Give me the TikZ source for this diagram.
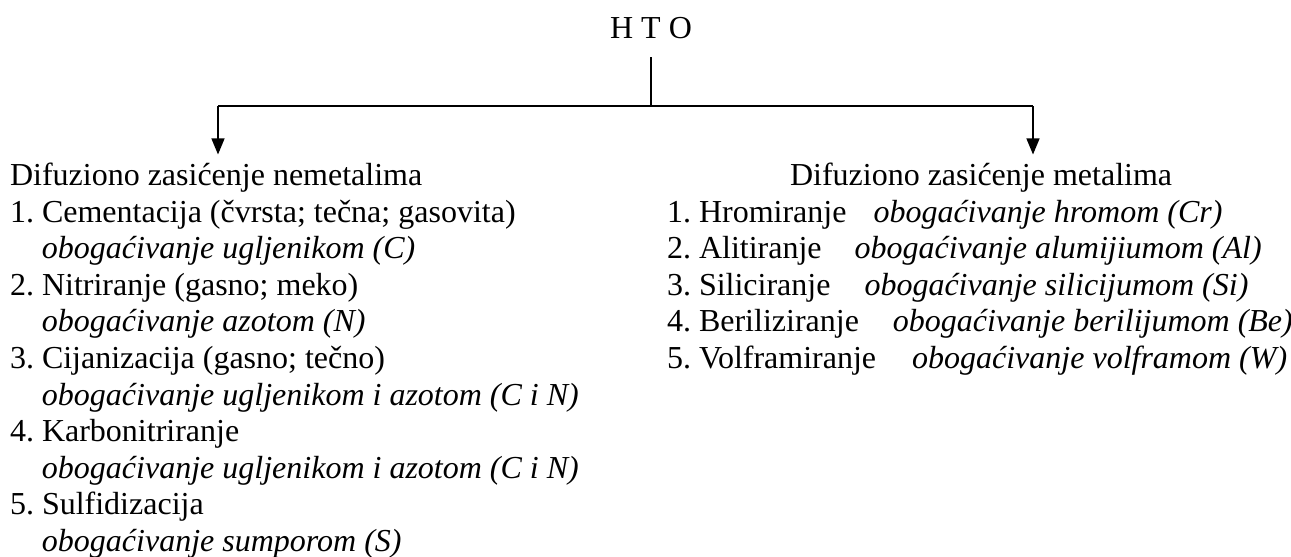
\documentclass[tikz,border=0pt]{standalone}
\usepackage{fontspec}
\setmainfont{Liberation Serif}
\usetikzlibrary{arrows.meta,positioning,calc}

\begin{document}
\begin{tikzpicture}[x=1pt, y=-1pt, font=\fontsize{32}{36.6}\selectfont]
    \tikzstyle{txt} = [inner sep=0pt, outer sep=0pt]
    \tikzstyle{line} = [draw, line width=1.3pt]
    \tikzstyle{arrow} = [draw, line width=1.3pt, -{Triangle[length=16pt, width=13pt]}, shorten >=8pt]
    \useasboundingbox (0,0) rectangle (1291,557);

    % Root
    \node[txt, anchor=base] (hto) at (651,38) {H T O};

    % Branch points
    \coordinate (split) at (hto.south |- 0,106);
    \coordinate (left) at (218,106);
    \coordinate (right) at (1033,106);

    % Headings
    \node[txt, anchor=base west] (nemet) at (10,185) {Difuziono zasićenje nemetalima};
    \node[txt, anchor=base west] (metal) at (790,185) {Difuziono zasićenje metalima};

    % Nonmetals
    \node[txt, anchor=base west] (nemetlist) at (10,222) {\begin{tabular}[t]{@{}l@{\ }l@{}}
        1. & Cementacija (čvrsta; tečna; gasovita)\\
           & \textit{obogaćivanje ugljenikom (C)}\\
        2. & Nitriranje (gasno; meko)\\
           & \textit{obogaćivanje azotom (N)}\\
        3. & Cijanizacija (gasno; tečno)\\
           & \textit{obogaćivanje ugljenikom i azotom (C i N)}\\
        4. & Karbonitriranje\\
           & \textit{obogaćivanje ugljenikom i azotom (C i N)}\\
        5. & Sulfidizacija\\
           & \textit{obogaćivanje sumporom (S)}
    \end{tabular}};

    % Metals
    \node[txt, anchor=base west] (metallist) at (667,222) {\begin{tabular}[t]{@{}l@{\ }l@{}}
        1. & Hromiranje\hspace{27pt}\textit{obogaćivanje hromom (Cr)}\\
        2. & Alitiranje\hspace{33pt}\textit{obogaćivanje alumijiumom (Al)}\\
        3. & Siliciranje\hspace{34pt}\textit{obogaćivanje silicijumom (Si)}\\
        4. & Beriliziranje\hspace{34pt}\textit{obogaćivanje berilijumom (Be)}\\
        5. & Volframiranje\hspace{36pt}\textit{obogaćivanje volframom (W)}
    \end{tabular}};

    % Connectors
    \draw[line, shorten <=19pt] (hto.south) -- (split);
    \draw[line, line width=2pt] (left) -- (right);
    \draw[arrow] (left) -- (left |- nemet.north);
    \draw[arrow] (right) -- (right |- metal.north);
\end{tikzpicture}
\end{document}
